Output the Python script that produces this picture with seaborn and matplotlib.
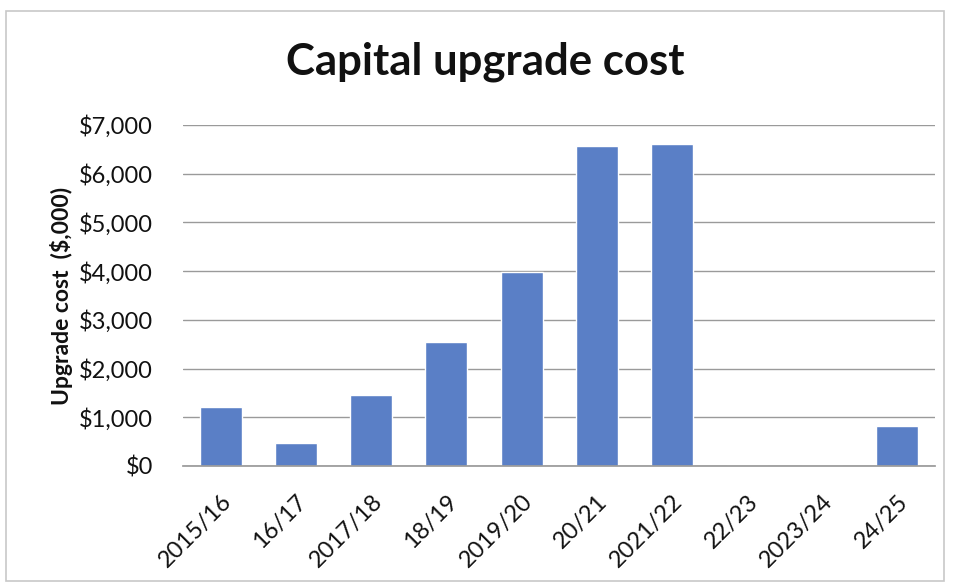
import matplotlib
matplotlib.use("Agg")
import matplotlib.pyplot as plt
import seaborn as sns
import pandas as pd
from matplotlib.patches import Rectangle
from matplotlib.ticker import FuncFormatter

# Capital upgrade cost per financial year, in $,000
years = ["2015/16", "16/17", "2017/18", "18/19", "2019/20", "20/21",
         "2021/22", "22/23", "2023/24", "24/25"]
costs = [1220, 470, 1460, 2550, 3990, 6570, 6600, 0, 0, 820]

df = pd.DataFrame({"year": years, "cost": costs})

sns.set_theme(style="white")
plt.rcParams["font.family"] = ["Lato", "DejaVu Sans"]

fig = plt.figure(figsize=(9.55, 5.88), dpi=100)
ax = fig.add_axes([0.192, 0.2075, 0.787, 0.58])

sns.barplot(data=df, x="year", y="cost", color="#5a7fc6", width=0.56,
            saturation=1, ax=ax)

ax.set_ylim(0, 7000)
ax.set_yticks(range(0, 7001, 1000))
ax.yaxis.set_major_formatter(FuncFormatter(lambda v, p: f"${v:,.0f}"))
ax.grid(axis="y", color="#9a9a9a", linewidth=1.0)
ax.set_axisbelow(True)
for s in ["top", "right", "left"]:
    ax.spines[s].set_visible(False)
ax.spines["bottom"].set_color("#9a9a9a")
ax.tick_params(axis="both", length=0, labelsize=17, colors="#111111")
ax.tick_params(axis="y", pad=22)
ax.tick_params(axis="x", pad=18)
plt.setp(ax.get_xticklabels(), rotation=45, ha="right", rotation_mode="anchor")

ax.set_xlabel("")
ax.set_ylabel("Upgrade cost  ($,000)", fontsize=16.5, fontweight="bold",
              color="#111111", labelpad=4)

fig.suptitle("Capital upgrade cost", x=0.508, y=0.93, fontsize=31.5,
             fontweight="bold", color="#111111")

# thin chart-area border
fig.patches.append(Rectangle((0.006, 0.012), 0.983, 0.97, transform=fig.transFigure,
                             fill=False, edgecolor="#c8c8c8", linewidth=1.2))

fig.savefig("out.png", dpi=100, facecolor="white")
